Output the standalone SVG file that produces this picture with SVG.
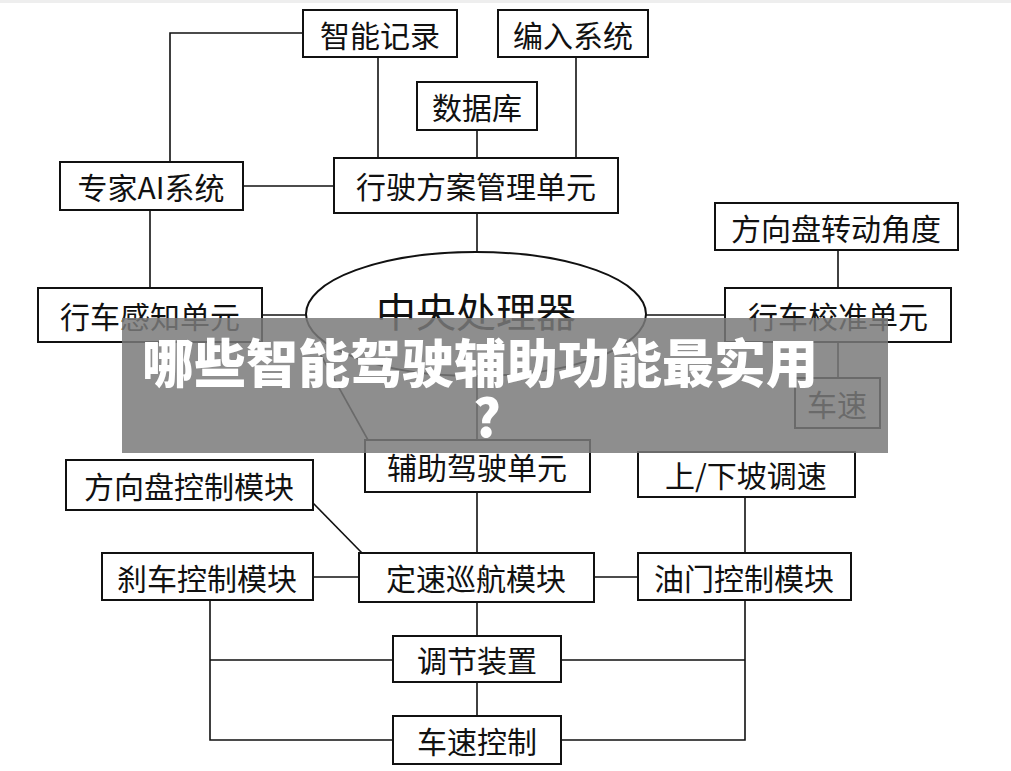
<svg xmlns="http://www.w3.org/2000/svg" width="1011" height="771" viewBox="0 0 1011 771">
<style>
.b{fill:#fff;stroke:#111;stroke-width:2}
.t{font-family:"Noto Sans CJK SC","Liberation Sans",sans-serif;font-size:30px;fill:#111;text-anchor:middle;dominant-baseline:central}
.c{fill:none;stroke:#111;stroke-width:1.6}
.o{font-family:"Noto Sans CJK SC",sans-serif;font-weight:900;font-size:52px;fill:#fff;text-anchor:middle;dominant-baseline:central}
</style>
<rect width="1011" height="771" fill="#fff"/>
<rect width="1011" height="3" fill="#eee"/>
<g id="connectors" class="c">
<path d="M303 33H170V162"/><path d="M378 57V158"/><path d="M576 57V158"/><path d="M477 130V158"/>
<path d="M243 186H334"/><path d="M150 210V288"/><path d="M477 213V252"/>
<path d="M262 315H306"/><path d="M646 315H725"/><path d="M838 250V288"/><path d="M838 342V378"/>
<path d="M477 376V440"/><path d="M318 350L368 440"/><path d="M477 492V553"/>
<path d="M313 503L362 553"/><path d="M313 577H359"/><path d="M594 577H638"/><path d="M745 497V553"/>
<path d="M210 600V740H393M210 660H393"/><path d="M745 600V740H561M745 660H561"/>
<path d="M477 602V636"/><path d="M477 682V716"/>
</g>
<g id="n1"><rect class="b" x="303" y="10" width="154" height="47"/><text class="t" x="380" y="34">智能记录</text></g>
<g id="n2"><rect class="b" x="498" y="10" width="150" height="47"/><text class="t" x="573" y="34">编入系统</text></g>
<g id="n3"><rect class="b" x="417" y="82" width="120" height="48"/><text class="t" x="477" y="106">数据库</text></g>
<g id="n4"><rect class="b" x="60" y="162" width="183" height="48"/><text class="t" x="151" y="186">专家AI系统</text></g>
<g id="n5"><rect class="b" x="334" y="158" width="284" height="55"/><text class="t" x="476" y="185">行驶方案管理单元</text></g>
<g id="n6"><rect class="b" x="715" y="203" width="243" height="47"/><text class="t" x="836" y="227">方向盘转动角度</text></g>
<g id="n7"><rect class="b" x="38" y="288" width="224" height="54"/><text class="t" x="150" y="315">行车感知单元</text></g>
<g id="n8"><ellipse class="b" cx="476" cy="314" rx="170" ry="62"/><text class="t" x="476" y="310" style="font-size:40px">中央处理器</text></g>
<g id="n9"><rect class="b" x="725" y="288" width="226" height="54"/><text class="t" x="838" y="315">行车校准单元</text></g>
<g id="n10"><rect class="b" x="795" y="378" width="85" height="50"/><text class="t" x="837" y="403">车速</text></g>
<g id="n11"><rect class="b" x="365" y="440" width="225" height="52"/><text class="t" x="477" y="466">辅助驾驶单元</text></g>
<g id="n12"><rect class="b" x="66" y="460" width="247" height="50"/><text class="t" x="189" y="485">方向盘控制模块</text></g>
<g id="n13"><rect class="b" x="638" y="452" width="217" height="45"/><text class="t" x="746" y="474">上/下坡调速</text></g>
<g id="n14"><rect class="b" x="102" y="553" width="211" height="47"/><text class="t" x="207" y="577">刹车控制模块</text></g>
<g id="n15"><rect class="b" x="359" y="553" width="235" height="49"/><text class="t" x="476" y="577">定速巡航模块</text></g>
<g id="n16"><rect class="b" x="638" y="553" width="213" height="47"/><text class="t" x="744" y="577">油门控制模块</text></g>
<g id="n17"><rect class="b" x="393" y="636" width="168" height="46"/><text class="t" x="477" y="659">调节装置</text></g>
<g id="n18"><rect class="b" x="393" y="716" width="168" height="48"/><text class="t" x="477" y="740">车速控制</text></g>
<g id="overlay">
<rect x="122" y="318" width="766" height="135" fill="#7a7a7a" fill-opacity="0.85"/>
<text class="o" x="480" y="360">哪些智能驾驶辅助功能最实用</text>
<text class="o" x="487" y="414">?</text>
</g>
</svg>
